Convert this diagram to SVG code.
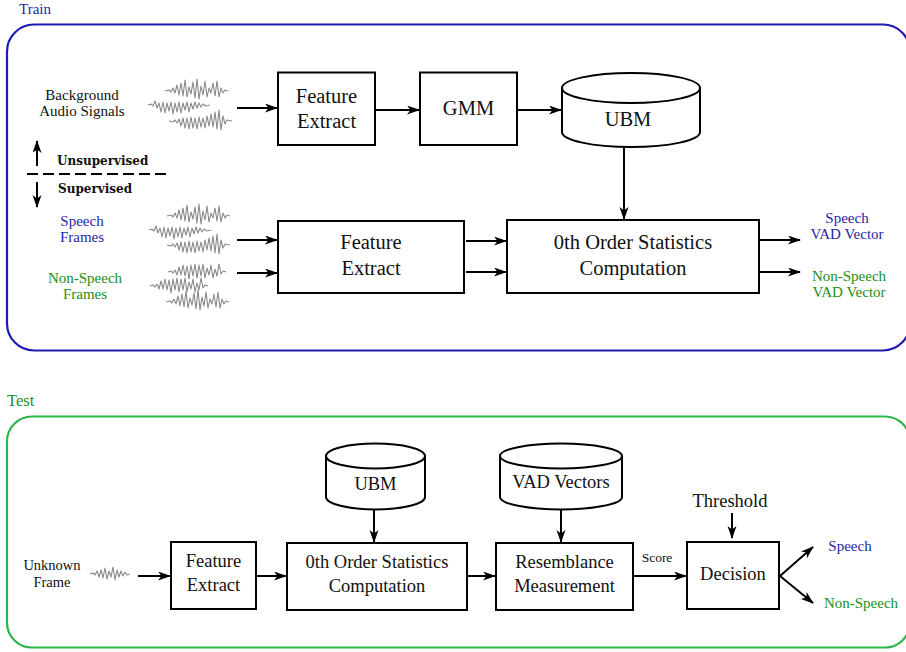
<svg xmlns="http://www.w3.org/2000/svg" xmlns:xlink="http://www.w3.org/1999/xlink" width="906" height="652" viewBox="0 0 906 652" font-family="'Liberation Serif', 'Times New Roman', serif">
<defs>
<style>
.box{fill:#fff;stroke:#000;stroke-width:2}
.cyl{fill:#fff;stroke:#000;stroke-width:2}
.con{fill:none;stroke:#000;stroke-width:2}
text{font-family:'Liberation Serif','Times New Roman',serif}
.t{fill:#111;text-anchor:middle}
.big{font-size:20.5px}
.mid{font-size:18.5px}
.sm{font-size:15px}
.blue{fill:#1f1fa8}
.green{fill:#1a8f1a}
text.bold{font-family:'DejaVu Serif',serif;font-weight:bold;font-size:12px;fill:#111}
.wave{fill:none;stroke:#8a8a8a;stroke-width:1.1;stroke-linejoin:round}
</style>
<marker id="ah" markerWidth="14" markerHeight="10" refX="12" refY="4.5" orient="auto" markerUnits="userSpaceOnUse">
<path d="M0,0 L13,4.5 L0,9 L3.5,4.5 z" fill="#000"/>
</marker>
<path id="wA" class="wave" d="M0,0 L4,-1 L6,1 L8,-3 L10,2 L12,-6 L14,4 L16,-8 L18,5 L20,-11 L22,6 L24,-4 L26,3 L28,-9 L30,7 L32,-12 L34,8 L36,-5 L38,4 L40,-10 L42,6 L44,-3 L46,2 L48,-8 L50,5 L52,-10 L54,6 L56,-3 L58,2 L60,-1 L63,0"/>
<path id="wB" class="wave" d="M0,0 L3,-1 L5,1 L7,-4 L9,3 L11,-2 L13,7 L15,-3 L17,8 L19,-2 L21,6 L23,-3 L25,9 L27,-2 L29,7 L31,-3 L33,8 L35,-2 L37,5 L39,-3 L41,7 L43,-2 L45,4 L47,-3 L49,3 L51,-2 L53,2 L55,-1 L58,1 L62,0"/>
<path id="wC" class="wave" d="M0,0 L4,1 L6,-1 L8,2 L10,-2 L12,5 L14,-3 L16,7 L18,-3 L20,8 L22,-4 L24,7 L26,-3 L28,8 L30,-4 L32,6 L34,-3 L36,7 L38,-5 L40,5 L42,-7 L44,6 L46,-9 L48,8 L50,-11 L52,9 L54,-5 L56,3 L58,-1 L63,0"/>
<path id="wD" class="wave" d="M0,0 L3,-1 L5,1 L7,-2 L9,3 L11,-5 L13,3 L15,-7 L17,4 L19,-6 L21,7 L23,-7 L25,4 L27,-8 L29,6 L31,-7 L33,4 L35,-8 L37,6 L39,-4 L41,3 L43,-7 L45,6 L47,-3 L49,4 L51,-8 L53,2 L55,-1 L58,0"/>
</defs>

<!-- panels -->
<g id="train-panel">
<rect x="7" y="24.5" width="903" height="326" rx="27" fill="none" stroke="#1c1cb4" stroke-width="2.2"/>
<text x="19" y="14" class="blue" font-size="15">Train</text>
</g>
<g id="test-panel">
<rect x="7" y="416.5" width="903" height="231" rx="25" fill="none" stroke="#2db54a" stroke-width="2.2"/>
<text x="7" y="406" class="green" font-size="16.5">Test</text>
</g>

<!-- train inputs -->
<g id="bg-audio">
<text class="t sm" x="82" y="100">Background</text>
<text class="t sm" x="82" y="116">Audio Signals</text>
<use xlink:href="#wA" x="165" y="91"/>
<use xlink:href="#wB" x="148" y="105"/>
<use xlink:href="#wC" x="169" y="121"/>
</g>

<g id="sup-divider">
<line x1="27" y1="174" x2="170" y2="174" stroke="#000" stroke-width="2" stroke-dasharray="11,5"/>
<line x1="37" y1="166" x2="37" y2="141" class="con" marker-end="url(#ah)"/>
<line x1="37" y1="182" x2="37" y2="207" class="con" marker-end="url(#ah)"/>
<text class="bold" x="57" y="165">Unsupervised</text>
<text class="bold" x="58" y="193">Supervised</text>
</g>

<g id="speech-frames">
<text class="t sm blue" x="82" y="226">Speech</text>
<text class="t sm blue" x="82" y="242">Frames</text>
<use xlink:href="#wA" x="167" y="216"/>
<use xlink:href="#wB" x="149" y="230"/>
<use xlink:href="#wC" x="167" y="245"/>
</g>

<g id="nonspeech-frames">
<text class="t sm green" x="85" y="283">Non-Speech</text>
<text class="t sm green" x="85" y="299">Frames</text>
<use xlink:href="#wD" x="168" y="272"/>
<use xlink:href="#wD" x="150" y="286"/>
<use xlink:href="#wA" x="166" y="302"/>
</g>

<!-- train nodes -->
<g id="fe1">
<rect class="box" x="278" y="72.5" width="97" height="72.5"/>
<text class="t big" x="326.5" y="103">Feature</text>
<text class="t big" x="326.5" y="128">Extract</text>
</g>
<g id="gmm">
<rect class="box" x="420" y="72.5" width="97" height="72.5"/>
<text class="t big" x="468.5" y="115">GMM</text>
</g>
<g id="ubm1">
<path class="cyl" d="M562,88 L562,132 A69,15 0 0 0 700,132 L700,88"/>
<ellipse class="cyl" cx="631" cy="88" rx="69" ry="15"/>
<text class="t big" x="628" y="126">UBM</text>
</g>
<g id="fe2">
<rect class="box" x="278" y="221" width="186" height="72"/>
<text class="t big" x="371" y="249">Feature</text>
<text class="t big" x="371" y="275">Extract</text>
</g>
<g id="zero1">
<rect class="box" x="507" y="220" width="252" height="73"/>
<text class="t big" x="633" y="249">0th Order Statistics</text>
<text class="t big" x="633" y="275">Computation</text>
</g>
<g id="out-speech">
<text class="t sm blue" x="847" y="223">Speech</text>
<text class="t sm blue" x="847" y="239">VAD Vector</text>
</g>
<g id="out-nonspeech">
<text class="t sm green" x="849" y="281">Non-Speech</text>
<text class="t sm green" x="849" y="297">VAD Vector</text>
</g>

<!-- test nodes -->
<g id="unknown">
<text class="t" font-size="14.5" x="52" y="570">Unknown</text>
<text class="t" font-size="14.5" x="52" y="587">Frame</text>
<path class="wave" d="M90,574 L93,573 L95,575 L97,571 L99,577 L101,570 L103,578 L105,568 L107,579 L109,571 L111,577 L113,567 L115,580 L117,570 L119,577 L121,571 L123,576 L125,572 L127,575 L130,574"/>
</g>
<g id="fe3">
<rect class="box" x="171" y="542" width="85" height="67"/>
<text class="t mid" x="213.5" y="567">Feature</text>
<text class="t mid" x="213.5" y="591">Extract</text>
</g>
<g id="ubm2">
<path class="cyl" d="M326,456 L326,497 A49.5,12.5 0 0 0 425,497 L425,456"/>
<ellipse class="cyl" cx="375.5" cy="456" rx="49.5" ry="12.5"/>
<text class="t mid" x="375.5" y="490">UBM</text>
</g>
<g id="zero2">
<rect class="box" x="287" y="543" width="180" height="67"/>
<text class="t mid" x="377" y="568">0th Order Statistics</text>
<text class="t mid" x="377" y="592">Computation</text>
</g>
<g id="vadvec">
<path class="cyl" d="M500,456 L500,497 A61,12.5 0 0 0 622,497 L622,456"/>
<ellipse class="cyl" cx="561" cy="456" rx="61" ry="12.5"/>
<text class="t mid" x="561" y="488">VAD Vectors</text>
</g>
<g id="resemblance">
<rect class="box" x="496" y="543" width="137" height="67"/>
<text class="t mid" x="564.5" y="568">Resemblance</text>
<text class="t mid" x="564.5" y="592">Measurement</text>
</g>
<g id="threshold">
<text class="t mid" x="730" y="507">Threshold</text>
</g>
<g id="decision">
<rect class="box" x="687" y="542" width="92" height="67"/>
<text class="t mid" x="733" y="580">Decision</text>
</g>
<g id="res-speech">
<text class="t sm blue" x="850" y="551">Speech</text>
</g>
<g id="res-nonspeech">
<text class="t sm green" x="861" y="608">Non-Speech</text>
</g>

<!-- connectors -->
<g id="connectors">
<line class="con" x1="237" y1="108" x2="277" y2="108" marker-end="url(#ah)"/>
<line class="con" x1="376" y1="110" x2="419" y2="110" marker-end="url(#ah)"/>
<line class="con" x1="518" y1="110" x2="561" y2="110" marker-end="url(#ah)"/>
<line class="con" x1="624" y1="148" x2="624" y2="219" marker-end="url(#ah)"/>
<line class="con" x1="237" y1="240" x2="277" y2="240" marker-end="url(#ah)"/>
<line class="con" x1="237" y1="273" x2="277" y2="273" marker-end="url(#ah)"/>
<line class="con" x1="466" y1="241" x2="506" y2="241" marker-end="url(#ah)"/>
<line class="con" x1="466" y1="272" x2="506" y2="272" marker-end="url(#ah)"/>
<line class="con" x1="760" y1="240" x2="800" y2="240" marker-end="url(#ah)"/>
<line class="con" x1="760" y1="272" x2="800" y2="272" marker-end="url(#ah)"/>
<line class="con" x1="138" y1="576" x2="170" y2="576" marker-end="url(#ah)"/>
<line class="con" x1="257" y1="576" x2="286" y2="576" marker-end="url(#ah)"/>
<line class="con" x1="374" y1="510" x2="374" y2="542" marker-end="url(#ah)"/>
<line class="con" x1="561" y1="510" x2="561" y2="542" marker-end="url(#ah)"/>
<line class="con" x1="468" y1="576" x2="495" y2="576" marker-end="url(#ah)"/>
<line class="con" x1="634" y1="576" x2="686" y2="576" marker-end="url(#ah)"/>
<text class="t" font-size="13.5" x="657" y="562">Score</text>
<line class="con" x1="732" y1="513" x2="732" y2="538" marker-end="url(#ah)"/>
<line class="con" x1="780" y1="576" x2="813" y2="547" marker-end="url(#ah)"/>
<line class="con" x1="780" y1="576" x2="813" y2="603" marker-end="url(#ah)"/>
</g>
</svg>
